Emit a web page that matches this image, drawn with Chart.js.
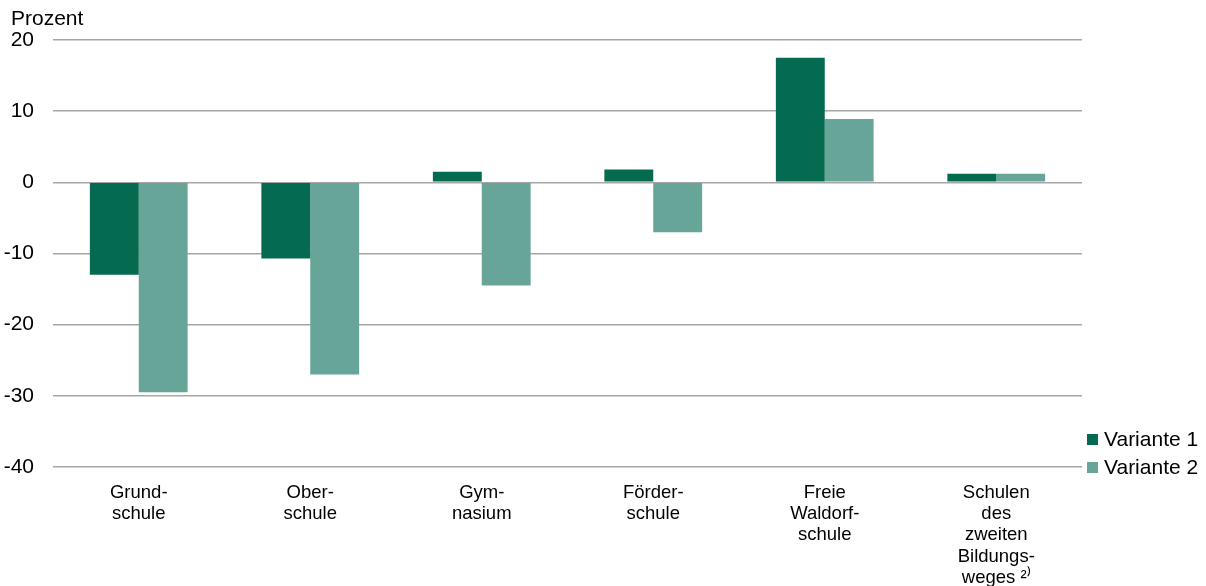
<!DOCTYPE html>
<html>
<head>
<meta charset="utf-8">
<script src="https://cdn.jsdelivr.net/npm/chart.js@4/dist/chart.umd.min.js"></script>
<style>
  html, body { margin: 0; padding: 0; background: #ffffff; }
  #wrap { width: 1206px; height: 586px; position: relative; }
</style>
</head>
<body>
<div id="wrap"><canvas id="c" width="1206" height="586"></canvas></div>
<script>
const categories = [
  ["Grund-", "schule"],
  ["Ober-", "schule"],
  ["Gym-", "nasium"],
  ["Förder-", "schule"],
  ["Freie", "Waldorf-", "schule"],
  ["Schulen", "des", "zweiten", "Bildungs-", "weges \u00B2\u207E"]
];
const variante1 = [-13.0, -10.7, 1.5, 1.8, 17.5, 1.2];
const variante2 = [-29.5, -27.0, -14.5, -7.0, 8.9, 1.2];
const seriesNames = ["Variante 1", "Variante 2"];
const yTicks = [20, 10, 0, -10, -20, -30, -40];
const yTitle = "Prozent";

const colors = ["#046a50", "#66a598"];
const FONT = "'Liberation Sans', Arial, Helvetica, sans-serif";

const extrasPlugin = {
  id: 'extras',
  afterDraw(chart) {
    const ctx = chart.ctx;
    const ca = chart.chartArea;
    ctx.save();
    // Axis title
    ctx.font = "21px " + FONT;
    ctx.fillStyle = "#000";
    ctx.textAlign = "left";
    ctx.textBaseline = "middle";
    ctx.fillText(yTitle, 11, ca.top - 21);
    // Legend
    const lx = ca.right + 5;
    const rowH = 28;
    const n = chart.data.datasets.length;
    chart.data.datasets.forEach((ds, i) => {
      const cy = ca.bottom + 1 - (n - 1 - i) * rowH;
      ctx.fillStyle = ds.backgroundColor;
      ctx.fillRect(lx, cy - 6, 11, 11);
      ctx.fillStyle = "#000";
      ctx.font = "21px " + FONT;
      ctx.textBaseline = "middle";
      ctx.fillText(ds.label, lx + 17, cy);
    });
    ctx.restore();
  }
};

new Chart(document.getElementById('c'), {
  type: 'bar',
  data: {
    labels: categories,
    datasets: [
      { label: seriesNames[0], data: variante1, backgroundColor: colors[0], borderWidth: 0 },
      { label: seriesNames[1], data: variante2, backgroundColor: colors[1], borderWidth: 0 }
    ]
  },
  options: {
    responsive: false,
    animation: false,
    devicePixelRatio: 1,
    layout: { padding: { top: 40, right: 124, left: 0, bottom: 0 } },
    datasets: { bar: { categoryPercentage: 0.57, barPercentage: 1.0 } },
    plugins: {
      legend: { display: false },
      title: { display: false },
      tooltip: { enabled: false }
    },
    scales: {
      x: {
        grid: { display: false, drawTicks: false },
        border: { display: false },
        ticks: {
          autoSkip: false, maxRotation: 0, minRotation: 0,
          color: "#000", padding: 15,
          font: { family: FONT, size: 18.5, lineHeight: 1.15 }
        },
        afterFit(scale) { scale.height = 119; }
      },
      y: {
        min: -40, max: 20,
        afterBuildTicks(scale) { scale.ticks = yTicks.map(v => ({ value: v })); },
        grid: { color: "#a6a6a6", lineWidth: 1.5, drawTicks: false },
        border: { display: false },
        ticks: {
          color: "#000", padding: 19,
          font: { family: FONT, size: 21 }
        },
        afterFit(scale) { scale.width = 53; }
      }
    }
  },
  plugins: [extrasPlugin]
});
</script>
</body>
</html>
